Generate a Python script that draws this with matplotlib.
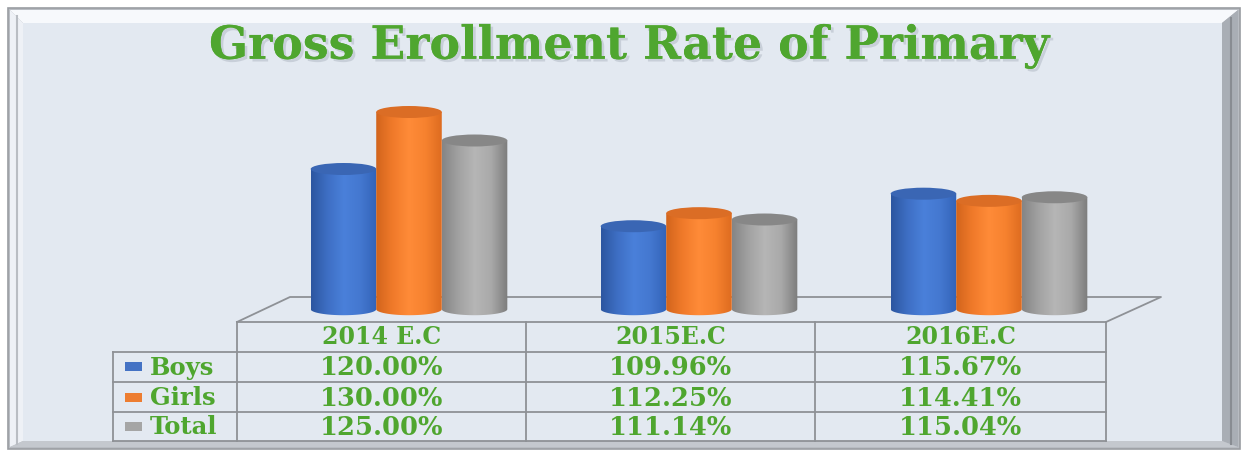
import numpy as np
import matplotlib
matplotlib.use("Agg")
from matplotlib import pyplot as plt
from matplotlib.patches import Polygon, Rectangle, Ellipse, PathPatch
from matplotlib.path import Path
from matplotlib.colors import LinearSegmentedColormap
import matplotlib.patheffects as pe

# -------------- Data ---------------
years = ['2014 E.C', '2015E.C', '2016E.C']
series = ['Boys', 'Girls', 'Total']
boys = [120.00, 109.96, 115.67]
girls = [130.00, 112.25, 114.41]
total = [125.00, 111.14, 115.04]
title = 'Gross Erollment Rate of Primary'

# -------------- Style ---------------
W, H = 1247, 451
PANEL = '#E3E9F1'
GREEN = '#4FA62F'
LINE = '#8E9196'
BASE = 95.4           # value axis minimum (floor of the 3D plot)
bar_w = 0.226
body_cols = {
    'Boys': ['#2C56A0', '#3E6FC4', '#4A80DA', '#4478D0', '#3263B8'],
    'Girls': ['#D2641C', '#F07A2A', '#FF8B38', '#F7822F', '#DE6C20'],
    'Total': ['#858585', '#A2A2A2', '#B6B6B6', '#A9A9A9', '#7C7C7C'],
}
top_cols = {'Boys': '#3A66B4', 'Girls': '#DB6D25', 'Total': '#878787'}
legend_cols = {'Boys': '#4472C4', 'Girls': '#ED7D31', 'Total': '#A5A5A5'}

fig = plt.figure(figsize=(W / 100, H / 100), dpi=100)
fig.patch.set_facecolor('white')

# background / frame in pixel coordinates
bg = fig.add_axes([0, 0, 1, 1])
bg.set_xlim(0, W)
bg.set_ylim(H, 0)
bg.axis('off')

bg.add_patch(Rectangle((8, 8), 1232, 441, facecolor='#B8BCC2', edgecolor='#9A9DA2', lw=1.2))
# bevels
bg.add_patch(Polygon([(10, 10), (1238, 10), (1222, 23), (23, 23)], facecolor='#F7F9FC', edgecolor='none'))
bg.add_patch(Polygon([(10, 10), (23, 23), (23, 441), (10, 447)], facecolor='#EEF1F6', edgecolor='none'))
bg.add_patch(Polygon([(1238, 10), (1238, 447), (1222, 441), (1222, 23)], facecolor='#A9AEB5', edgecolor='none'))
bg.add_patch(Polygon([(10, 447), (23, 441), (1222, 441), (1238, 447)], facecolor='#C4C8CE', edgecolor='none'))
bg.plot([17, 17], [16, 444], color='#B9BDC3', lw=1.5)
bg.plot([1231, 1231], [18, 444], color='#888C92', lw=1.5)
bg.add_patch(Rectangle((23, 23), 1199, 418, facecolor=PANEL, edgecolor='none'))

# title
bg.text(630, 46, title, ha='center', va='center', fontsize=33, fontweight='bold',
        family='DejaVu Serif', color=GREEN,
        path_effects=[pe.withSimplePatchShadow(offset=(2, -2), shadow_rgbFace='#A9B1BC', alpha=0.45),
                      pe.Normal()])

# floor
bg.plot([237, 290, 1161, 1106], [322, 297, 297, 322], color=LINE, lw=1.3)

# table grid
col_x = [237, 526, 815, 1106]
row_y = [322, 351.5, 382, 412, 441]
bg.plot([237, 1106], [row_y[0], row_y[0]], color=LINE, lw=1.3)
for yy in row_y[1:]:
    bg.plot([113, 1106], [yy, yy], color=LINE, lw=1.3)
for xx in col_x:
    bg.plot([xx, xx], [row_y[0], row_y[-1]], color=LINE, lw=1.3)
bg.plot([113, 113], [row_y[1], row_y[-1]], color=LINE, lw=1.3)

txt_kw = dict(family='DejaVu Serif', fontweight='bold', color=GREEN, ha='center', va='center')
for i, yr in enumerate(years):
    cx = (col_x[i] + col_x[i + 1]) / 2
    bg.text(cx, 337, yr, fontsize=17, **txt_kw)

values = {'Boys': boys, 'Girls': girls, 'Total': total}
for r, name in enumerate(series):
    cy = (row_y[r + 1] + row_y[r + 2]) / 2
    bg.add_patch(Rectangle((125, cy - 4.5), 17, 9, facecolor=legend_cols[name], edgecolor='none'))
    bg.text(150, cy + 1, name, fontsize=17.5, family='DejaVu Serif', fontweight='bold',
            color=GREEN, ha='left', va='center')
    for i, v in enumerate(values[name]):
        cx = (col_x[i] + col_x[i + 1]) / 2
        bg.text(cx, cy + 1, f'{v:.2f}%', fontsize=18.5, **txt_kw)

# -------------- 3D cylinder bars ---------------
# value -> pixel: y_px = 853 - 5.7 * v
px_per_unit = 5.7
ax_top_px, ax_bot_px = 60, 330
ymax = (853 - ax_top_px) / px_per_unit
ymin = (853 - ax_bot_px) / px_per_unit
ax = fig.add_axes([264 / W, 1 - ax_bot_px / H, 870 / W, (ax_bot_px - ax_top_px) / H])
ax.patch.set_alpha(0)
ax.axis('off')

ell_h = 12 / px_per_unit
x = np.arange(len(years))
offsets = [-bar_w, 0, bar_w]

for k, name in enumerate(series):
    cmap = LinearSegmentedColormap.from_list(name, body_cols[name])
    grad = np.linspace(0, 1, 128)[None, :]
    for i, v in enumerate(values[name]):
        c = x[i] + offsets[k]
        x0, x1 = c - bar_w / 2, c + bar_w / 2
        t = np.linspace(np.pi, 2 * np.pi, 40)
        arc = np.column_stack([c + bar_w / 2 * np.cos(t), BASE + ell_h / 2 * np.sin(t)])
        verts = np.vstack([[(x0, v)], arc, [(x1, v)], [(x0, v)]])
        codes = [Path.MOVETO] + [Path.LINETO] * (len(verts) - 2) + [Path.CLOSEPOLY]
        body = PathPatch(Path(verts, codes), facecolor='none', edgecolor='none',
                         transform=ax.transData)
        ax.add_patch(body)
        im = ax.imshow(grad, cmap=cmap, extent=[x0, x1, BASE - ell_h, v], aspect='auto',
                       interpolation='bilinear', zorder=2 + k)
        im.set_clip_path(body)
        ax.add_patch(Ellipse((c, v), bar_w, ell_h, facecolor=top_cols[name],
                             edgecolor='none', zorder=2.5 + k))

ax.set_xlim(-0.5, 2.5)
ax.set_ylim(ymin, ymax)

fig.savefig('out.png', dpi=100, facecolor='white')
